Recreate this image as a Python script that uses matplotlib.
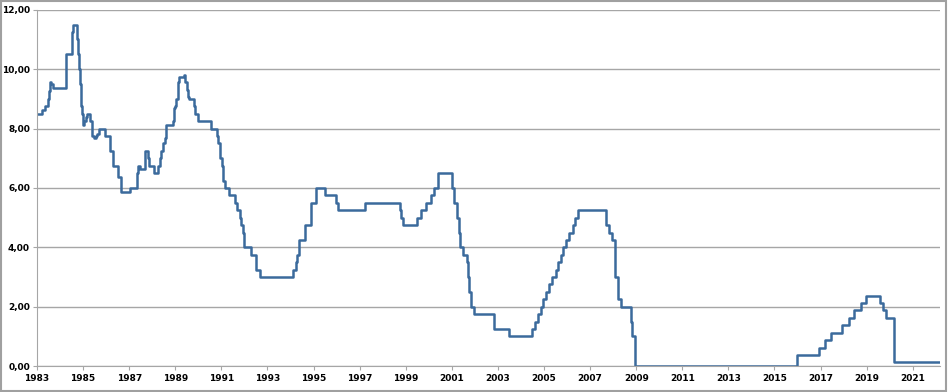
import numpy as np
import matplotlib.pyplot as plt
from matplotlib.patches import Rectangle

# target rate, change dates as decimal years (step after each date)
dates = [1983.00, 1983.20, 1983.37, 1983.46, 1983.52, 1983.58, 1983.63, 1983.70,
         1984.24, 1984.50, 1984.54, 1984.58, 1984.75, 1984.78, 1984.82, 1984.86,
         1984.90, 1984.93, 1984.96, 1984.99, 1985.06, 1985.13, 1985.19, 1985.32,
         1985.40, 1985.47, 1985.56, 1985.62, 1985.70, 1985.96, 1986.18, 1986.30,
         1986.53, 1986.64, 1987.03, 1987.33, 1987.38, 1987.46, 1987.67, 1987.81,
         1987.84, 1988.07, 1988.24, 1988.35, 1988.40, 1988.47, 1988.55, 1988.62,
         1988.89, 1988.96, 1989.00, 1989.02, 1989.11, 1989.12, 1989.14, 1989.16,
         1989.37, 1989.43, 1989.52, 1989.57, 1989.61, 1989.80, 1989.85, 1989.97,
         1990.53, 1990.83, 1990.87, 1990.93, 1990.96, 1991.02, 1991.09, 1991.18,
         1991.33, 1991.60, 1991.70, 1991.83, 1991.85, 1991.93, 1991.97, 1992.27,
         1992.50, 1992.68, 1994.09, 1994.22, 1994.30, 1994.38, 1994.63, 1994.87,
         1995.09, 1995.51, 1995.97, 1996.08, 1997.23, 1998.75, 1998.79, 1998.88,
         1999.50, 1999.65, 1999.88, 2000.09, 2000.22, 2000.38, 2001.01, 2001.08,
         2001.22, 2001.30, 2001.37, 2001.49, 2001.64, 2001.71, 2001.75, 2001.85,
         2001.95, 2002.85, 2003.48, 2004.50, 2004.61, 2004.72, 2004.86, 2004.95,
         2005.09, 2005.22, 2005.34, 2005.50, 2005.61, 2005.72, 2005.83, 2005.95,
         2006.08, 2006.24, 2006.36, 2006.49, 2007.71, 2007.83, 2007.94, 2008.06,
         2008.08, 2008.21, 2008.33, 2008.77, 2008.83, 2008.96, 2015.96, 2016.95,
         2017.20, 2017.45, 2017.95, 2018.22, 2018.45, 2018.74, 2018.97, 2019.58,
         2019.71, 2019.83, 2020.17, 2020.20, 2022.15]
rates = [8.50, 8.625, 8.75, 9.00, 9.25, 9.5625, 9.50, 9.375,
         10.50, 11.00, 11.25, 11.50, 11.00, 10.50, 10.00, 9.50,
         9.00, 8.75, 8.50, 8.125, 8.25, 8.375, 8.50, 8.25,
         7.75, 7.6875, 7.75, 7.8125, 8.00, 7.75, 7.25, 6.75,
         6.375, 5.875, 6.00, 6.50, 6.75, 6.625, 7.25, 7.00,
         6.75, 6.50, 6.75, 7.00, 7.25, 7.50, 7.6875, 8.125,
         8.25, 8.6875, 8.75, 9.00, 9.0625, 9.3125, 9.5625, 9.75,
         9.8125, 9.5625, 9.3125, 9.0625, 9.00, 8.75, 8.50, 8.25,
         8.00, 7.75, 7.50, 7.25, 7.00, 6.75, 6.25, 6.00,
         5.75, 5.50, 5.25, 5.00, 4.75, 4.50, 4.00, 3.75,
         3.25, 3.00, 3.25, 3.50, 3.75, 4.25, 4.75, 5.50,
         6.00, 5.75, 5.50, 5.25, 5.50, 5.25, 5.00, 4.75,
         5.00, 5.25, 5.50, 5.75, 6.00, 6.50, 6.00, 5.50,
         5.00, 4.50, 4.00, 3.75, 3.50, 3.00, 2.50, 2.00,
         1.75, 1.25, 1.00, 1.25, 1.50, 1.75, 2.00, 2.25,
         2.50, 2.75, 3.00, 3.25, 3.50, 3.75, 4.00, 4.25,
         4.50, 4.75, 5.00, 5.25, 4.75, 4.50, 4.25, 3.50,
         3.00, 2.25, 2.00, 1.50, 1.00, 0.00, 0.375, 0.625,
         0.875, 1.125, 1.375, 1.625, 1.875, 2.125, 2.375, 2.125,
         1.875, 1.625, 1.125, 0.125, 0.125]

year_ticks = list(range(1983, 2022, 2))
y_ticks = [0, 2, 4, 6, 8, 10, 12]

fig = plt.figure(figsize=(9.48, 3.92), dpi=100)
ax = fig.add_axes([0.039, 0.066, 0.953, 0.909])

ax.plot(dates, rates, drawstyle='steps-post', color='#3b6a9c', lw=1.8)

ax.set_xlim(1983, 2022.2)
ax.set_ylim(0, 12)
ax.set_xticks(year_ticks)
ax.set_xticklabels([str(y) for y in year_ticks], fontsize=6.5, fontweight='bold')
ax.set_yticks(y_ticks)
ax.set_yticklabels([f'{v:.2f}'.replace('.', ',') for v in y_ticks],
                   fontsize=6.5, fontweight='bold')
ax.grid(axis='y', color='#a6a6a6', lw=1)
ax.set_axisbelow(True)
for s in ['top', 'right']:
    ax.spines[s].set_visible(False)
for s in ['left', 'bottom']:
    ax.spines[s].set_color('#a6a6a6')
ax.tick_params(axis='both', length=3, color='#a6a6a6', pad=2)
ax.tick_params(axis='x', pad=3)

fig.patches.append(Rectangle((0.001, 0.002), 0.997, 0.995, transform=fig.transFigure,
                             fill=False, edgecolor='#a0a0a0', lw=1.5))

fig.savefig('out.png', dpi=100)
